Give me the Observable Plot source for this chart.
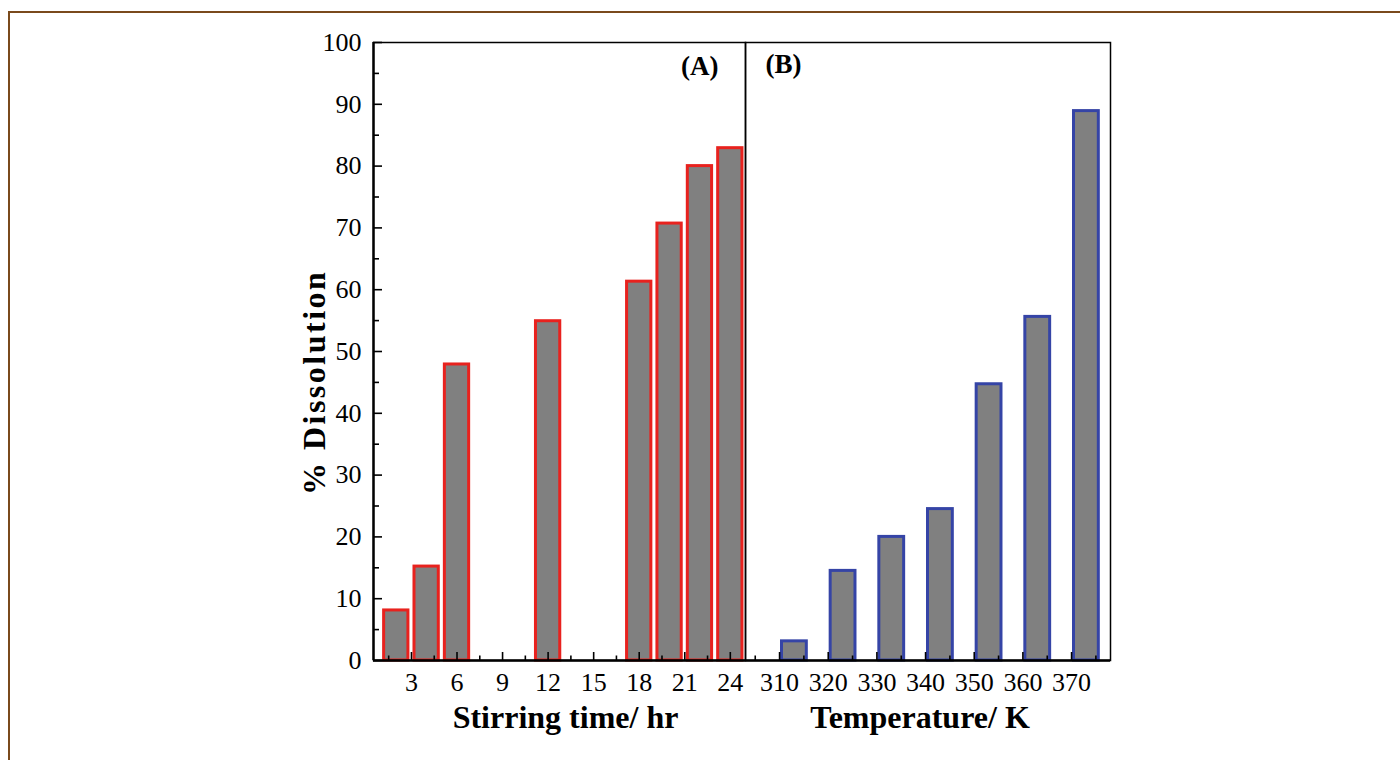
<!DOCTYPE html>
<html><head><meta charset="utf-8">
<script src="https://cdn.jsdelivr.net/npm/d3@7"></script>
<script src="https://cdn.jsdelivr.net/npm/@observablehq/plot@0.6"></script>
<style>
html,body{margin:0;padding:0;background:#fff;width:1400px;height:760px;overflow:hidden;color:#000;}
#border{position:absolute;left:8px;top:11px;width:1400px;height:760px;border-left:2px solid #7a4a1c;border-top:2px solid #7a4a1c;}
#a,#b{position:absolute;top:0;}
#a{left:0px}
#b{left:735px}
svg{max-width:none !important;}
</style></head><body>
<div id="border"></div><div id="a"></div><div id="b"></div>
<script>
// Panel (A): stirring time
const timeHours = [2, 4, 6, 12, 18, 20, 22, 24];
const timeDissolution = [8.1, 15.2, 47.9, 54.9, 61.3, 70.7, 80.0, 82.9];
const timeTicks = [3, 6, 9, 12, 15, 18, 21, 24];
const timeMinorTicks = [1.5, 4.5, 7.5, 10.5, 13.5, 16.5, 19.5, 22.5];
// Panel (B): temperature
const tempK = [310, 320, 330, 340, 350, 360, 370];
const tempDissolution = [3.1, 14.5, 20.0, 24.5, 44.7, 55.6, 88.9];
const tempTicks = [310, 320, 330, 340, 350, 360, 370];
const tempMinorTicks = [305, 315, 325, 335, 345, 355, 365, 375];
// Y axis
const yTicks = [0, 10, 20, 30, 40, 50, 60, 70, 80, 90, 100];
const yMinorTicks = [5, 15, 25, 35, 45, 55, 65, 75, 85, 95];

const rowsA = timeHours.map((t, i) => ({t, v: timeDissolution[i]}));
const rowsB = tempK.map((t, i) => ({t, v: tempDissolution[i]}));

const H = 760, MT = 42, MB = 100;
const yPerPx = 100 / (H - MT - MB);
const serif = '"Liberation Serif", "Times New Roman", serif';
const style = {fontFamily: serif, fontSize: "26px", color: "#000", background: "transparent", overflow: "visible"};

// Panel A geometry
const domA = [0.5, 25], innerA = 372, mlA = 373, mrA = 10;
const xPerPxA = (domA[1] - domA[0]) / innerA;
const plotA = Plot.plot({
  width: mlA + innerA + mrA, height: H,
  marginLeft: mlA, marginRight: mrA, marginTop: MT, marginBottom: MB,
  style,
  x: {domain: domA, label: null},
  y: {domain: [0, 100], label: null},
  marks: [
    Plot.rect(rowsA, {x1: d => d.t - 0.8, x2: d => d.t + 0.8, y1: 0, y2: "v", fill: "#808080", stroke: "#e8221e", strokeWidth: 3}),
    Plot.ruleX(timeTicks, {y1: 0, y2: 8 * yPerPx, stroke: "#000", strokeWidth: 1.6}),
    Plot.ruleX(timeMinorTicks, {y1: 0, y2: 4.5 * yPerPx, stroke: "#000", strokeWidth: 1.6}),
    Plot.ruleY(yTicks, {x1: domA[0], x2: domA[0] + 9 * xPerPxA, stroke: "#000", strokeWidth: 1.6}),
    Plot.ruleY(yMinorTicks, {x1: domA[0], x2: domA[0] + 6 * xPerPxA, stroke: "#000", strokeWidth: 1.6}),
    Plot.frame({stroke: "#000", strokeWidth: 1.5}),
    Plot.ruleX([domA[0]], {stroke: "#000", strokeWidth: 2.4}),
    Plot.ruleY([0], {stroke: "#000", strokeWidth: 2.4}),
    Plot.axisX(timeTicks, {tickSize: 0, tickPadding: 12, label: null}),
    Plot.axisY(yTicks, {tickSize: 0, tickPadding: 12, label: null}),
    Plot.text(["Stirring time/ hr"], {frameAnchor: "bottom", dy: 57, dx: 6, lineAnchor: "middle", fontSize: 32, fontWeight: "bold"}),
    Plot.text(["% Dissolution"], {x: domA[0] - 59 * xPerPxA, y: 45, rotate: -90, fontSize: 32, fontWeight: "bold"}),
    Plot.text(["(A)"], {frameAnchor: "top-right", dx: -27, dy: 13, fontSize: 27, fontWeight: "bold"})
  ]
});
document.getElementById("a").append(plotA);
d3.select(plotA).selectAll("text").filter(function() { return this.textContent === "% Dissolution"; })
  .style("letter-spacing", "2.5px");

// Panel B geometry
const domB = [303, 378], innerB = 365, mlB = 10, mrB = 290;
const plotB = Plot.plot({
  width: mlB + innerB + mrB, height: H,
  marginLeft: mlB, marginRight: mrB, marginTop: MT, marginBottom: MB,
  style,
  x: {domain: domB, label: null},
  y: {domain: [0, 100], label: null, axis: null},
  marks: [
    Plot.rect(rowsB, {x1: d => d.t + 0.5, x2: d => d.t + 5.6, y1: 0, y2: "v", fill: "#808080", stroke: "#3544a6", strokeWidth: 3}),
    Plot.ruleX(tempTicks, {y1: 0, y2: 8 * yPerPx, stroke: "#000", strokeWidth: 1.6}),
    Plot.ruleX(tempMinorTicks, {y1: 0, y2: 4.5 * yPerPx, stroke: "#000", strokeWidth: 1.6}),
    Plot.frame({stroke: "#000", strokeWidth: 1.5}),
    Plot.ruleY([0], {stroke: "#000", strokeWidth: 2.4}),
    Plot.axisX(tempTicks, {tickSize: 0, tickPadding: 12, label: null}),
    Plot.text(["Temperature/ K"], {frameAnchor: "bottom", dy: 57, dx: -8, lineAnchor: "middle", fontSize: 32, fontWeight: "bold"}),
    Plot.text(["(B)"], {frameAnchor: "top-left", dx: 20, dy: 11, fontSize: 27, fontWeight: "bold"})
  ]
});
document.getElementById("b").append(plotB);
</script>
</body></html>
